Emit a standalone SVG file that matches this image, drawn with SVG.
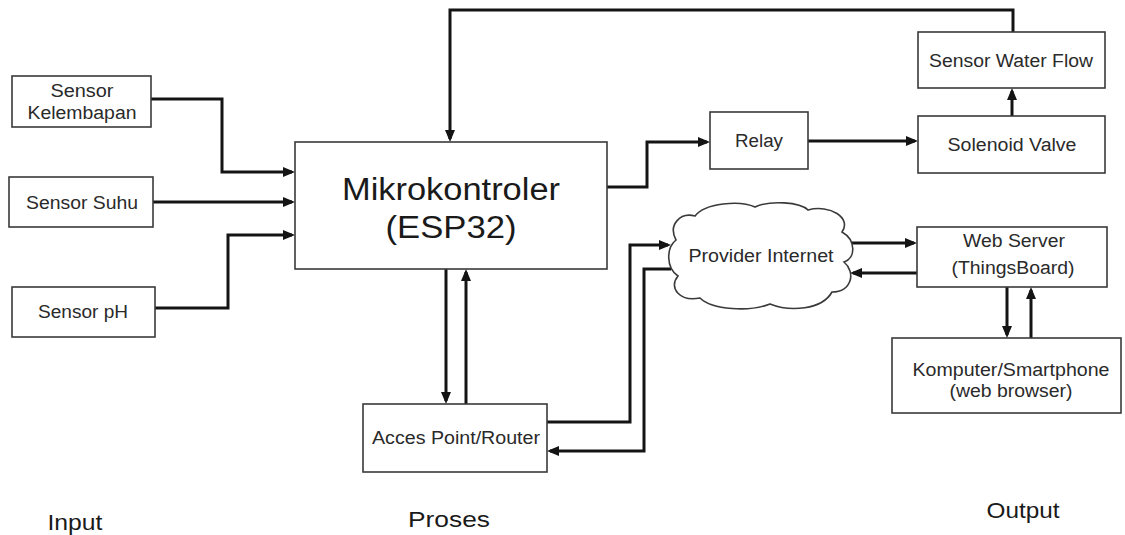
<svg xmlns="http://www.w3.org/2000/svg" width="1125" height="535" viewBox="0 0 1125 535">
<style>
.box{fill:#fff;stroke:#3a3a3a;stroke-width:1.6}
.t{font-family:"Liberation Sans",Arial,sans-serif;font-size:18px;fill:#2a2a2a;text-anchor:middle}
.big{font-size:31px;fill:#1a1a1a}
.lbl{font-size:22px;fill:#1a1a1a}
.c{fill:none;stroke:#141414;stroke-width:3;marker-end:url(#ah)}
</style>
<defs>
<marker id="ah" markerUnits="userSpaceOnUse" markerWidth="14" markerHeight="12" refX="9" refY="5" orient="auto">
<path d="M0,0 L12,5 L0,10 Z" fill="#141414"/>
</marker>
</defs>
<rect width="1125" height="535" fill="#fff"/>
<g id="connectors">
<path class="c" d="M151 99 H222 V172 H292"/>
<path class="c" d="M153 202 H292"/>
<path class="c" d="M155 308 H228 V235 H292"/>
<path class="c" d="M1013 32 V10 H450 V139"/>
<path class="c" d="M607 187 H647 V142 H707"/>
<path class="c" d="M808 141 H915"/>
<path class="c" d="M1012 116 V91"/>
<path class="c" d="M446 269 V401"/>
<path class="c" d="M466 404 V272"/>
<path class="c" d="M547 422 H630 V245 H668"/>
<path class="c" d="M671 269 H644 V451 H550"/>
<path class="c" d="M851 243 H914"/>
<path class="c" d="M917 273 H853"/>
<path class="c" d="M1007 287 V335"/>
<path class="c" d="M1031 338 V290"/>
</g>
<g id="sensor-kelembapan">
<rect class="box" x="12" y="76" width="139" height="51"/>
<text class="t" x="82" y="97" textLength="63" lengthAdjust="spacingAndGlyphs">Sensor</text>
<text class="t" x="82" y="119" textLength="109" lengthAdjust="spacingAndGlyphs">Kelembapan</text>
</g>
<g id="sensor-suhu">
<rect class="box" x="9" y="177" width="144" height="50"/>
<text class="t" x="82" y="209" textLength="112" lengthAdjust="spacingAndGlyphs">Sensor Suhu</text>
</g>
<g id="sensor-ph">
<rect class="box" x="12" y="287" width="143" height="50"/>
<text class="t" x="83" y="318" textLength="90" lengthAdjust="spacingAndGlyphs">Sensor pH</text>
</g>
<g id="mikrokontroler">
<rect class="box" x="295" y="142" width="312" height="127"/>
<text class="t big" x="451" y="200" textLength="218" lengthAdjust="spacingAndGlyphs">Mikrokontroler</text>
<text class="t big" x="451" y="238" textLength="131" lengthAdjust="spacingAndGlyphs">(ESP32)</text>
</g>
<g id="relay">
<rect class="box" x="710" y="112" width="98" height="57"/>
<text class="t" x="759" y="147" textLength="48" lengthAdjust="spacingAndGlyphs">Relay</text>
</g>
<g id="solenoid-valve">
<rect class="box" x="918" y="116" width="187" height="57"/>
<text class="t" x="1012" y="151" textLength="129" lengthAdjust="spacingAndGlyphs">Solenoid Valve</text>
</g>
<g id="sensor-water-flow">
<rect class="box" x="918" y="32" width="187" height="56"/>
<text class="t" x="1011" y="67" textLength="164" lengthAdjust="spacingAndGlyphs">Sensor Water Flow</text>
</g>
<g id="access-point">
<rect class="box" x="363" y="404" width="184" height="68"/>
<text class="t" x="456" y="444" textLength="168" lengthAdjust="spacingAndGlyphs">Acces Point/Router</text>
</g>
<g id="provider-internet">
<path class="box" d="M676 240 C668 225 680 212 695 216 C705 203 740 200 755 207 C770 200 800 202 808 210 C830 204 852 218 842 232 C856 240 856 258 844 262 C856 272 852 292 832 292 C822 310 790 312 770 304 C750 312 712 310 700 298 C680 302 668 288 678 276 C666 268 666 248 676 240 Z"/>
<text class="t" x="761" y="262" textLength="145" lengthAdjust="spacingAndGlyphs">Provider Internet</text>
</g>
<g id="web-server">
<rect class="box" x="917" y="227" width="190" height="60"/>
<text class="t" x="1014" y="247" textLength="102" lengthAdjust="spacingAndGlyphs">Web Server</text>
<text class="t" x="1013" y="274" textLength="123" lengthAdjust="spacingAndGlyphs">(ThingsBoard)</text>
</g>
<g id="komputer">
<rect class="box" x="892" y="338" width="229" height="75"/>
<text class="t" x="1011" y="376" textLength="197" lengthAdjust="spacingAndGlyphs">Komputer/Smartphone</text>
<text class="t" x="1011" y="397" textLength="123" lengthAdjust="spacingAndGlyphs">(web browser)</text>
</g>
<g id="labels">
<text class="t lbl" x="75" y="530" textLength="55" lengthAdjust="spacingAndGlyphs">Input</text>
<text class="t lbl" x="449" y="527" textLength="82" lengthAdjust="spacingAndGlyphs">Proses</text>
<text class="t lbl" x="1023" y="518" textLength="73" lengthAdjust="spacingAndGlyphs">Output</text>
</g>
</svg>
